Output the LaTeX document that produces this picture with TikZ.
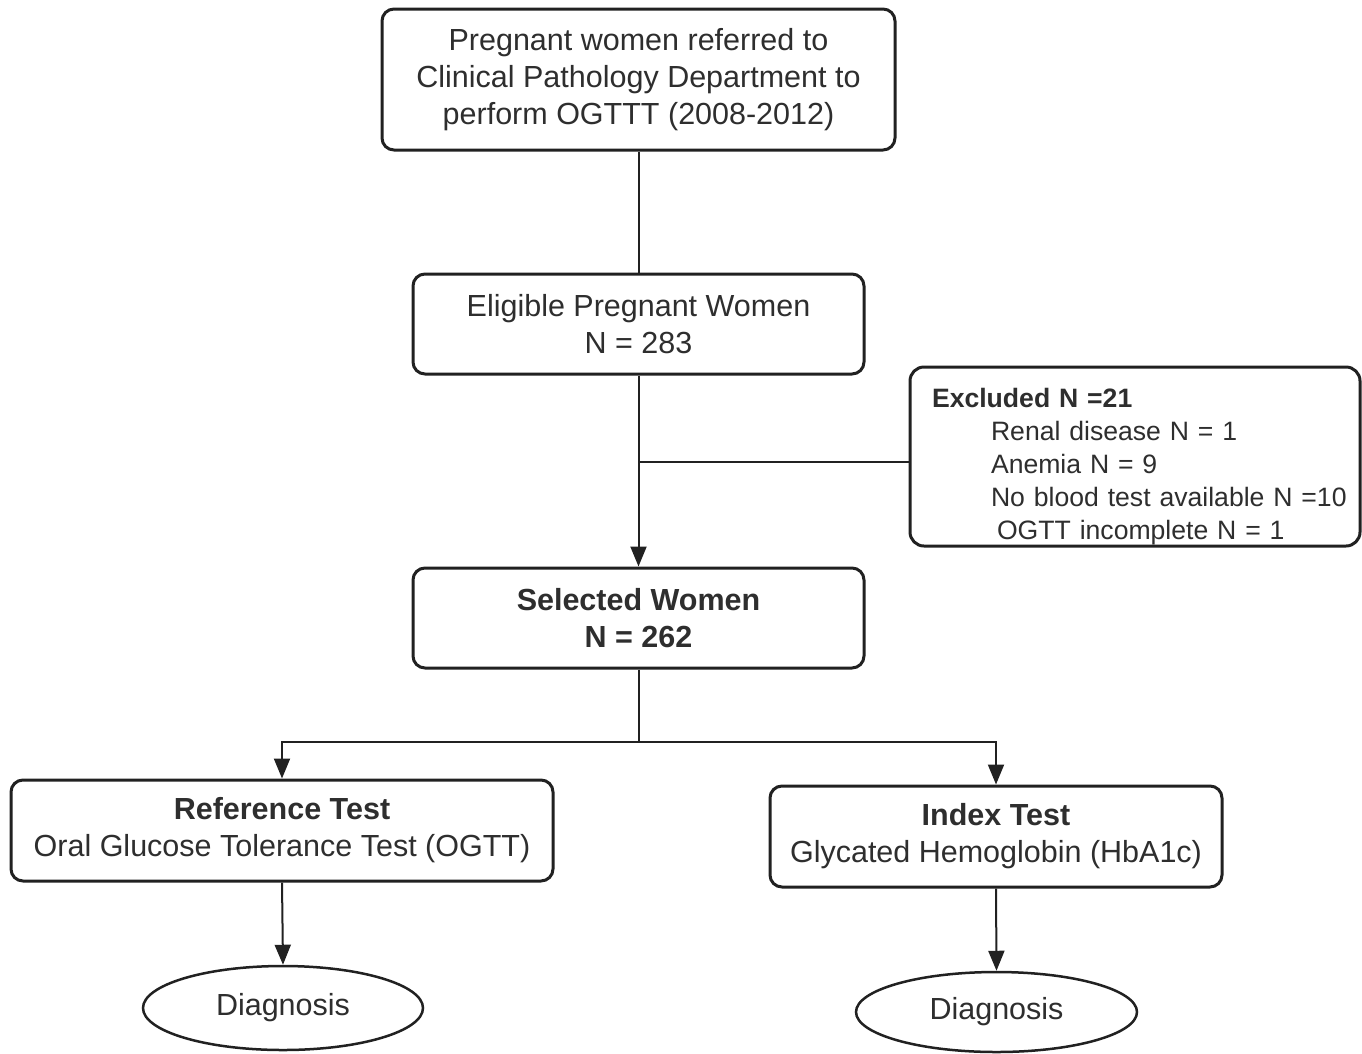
\documentclass[tikz,border=0pt]{standalone}
\usepackage{fontspec}
\setmainfont{Liberation Sans}
\usetikzlibrary{arrows.meta,shapes.geometric}
\definecolor{linecol}{gray}{0.13}
\definecolor{textcol}{gray}{0.18}
\tikzset{
  boxstyle/.style={draw=linecol, line width=3pt, rounded corners=12pt, fill=white,
    text=textcol, align=center, inner sep=0pt,
    font=\fontsize{30.5}{37}\selectfont},
  exboxstyle/.style={draw=linecol, line width=3pt, rounded corners=14pt, fill=white,
    text=textcol, align=left, inner xsep=15pt, inner ysep=0pt,
    font=\fontsize{26.6}{33}\selectfont},
  ovalstyle/.style={draw=linecol, line width=2.5pt, ellipse, fill=white,
    text=textcol, inner sep=0pt, font=\fontsize{30.5}{37}\selectfont},
  conn/.style={draw=linecol, line width=2pt},
  arrowconn/.style={conn, -{Triangle[length=20pt,width=16pt]}},
}
\begin{document}
\begin{tikzpicture}[x=1pt,y=-1pt]
\useasboundingbox (0,0) rectangle (1362,1053);
\node[boxstyle, minimum width=513pt, minimum height=141pt] (top) at (638.5,79.5)
  {Pregnant women referred to\\Clinical Pathology Department to\\perform OGTTT (2008-2012)};
\node[boxstyle, minimum width=451pt, minimum height=100pt] (elig) at (638.5,324)
  {Eligible Pregnant Women\\N = 283};
\node[exboxstyle, minimum width=450pt, minimum height=179pt, text width=420pt] (excl) at (1135,456.5)
  {\mbox{\rule{0pt}{39pt}\hspace*{7pt}\textbf{Excluded N =21}}\\
   \mbox{\hspace*{66pt}Renal disease N = 1}\\
   \mbox{\hspace*{66pt}Anemia N = 9}\\
   \mbox{\hspace*{66pt}No blood test available N =10}\\
   \mbox{\hspace*{72pt}OGTT incomplete N = 1}};
\node[boxstyle, minimum width=451pt, minimum height=100pt] (sel) at (638.5,618)
  {\textbf{Selected Women}\\\textbf{N = 262}};
\node[boxstyle, minimum width=542pt, minimum height=101pt] (ref) at (282,830.5)
  {\textbf{Reference Test}\\Oral Glucose Tolerance Test (OGTT)};
\node[boxstyle, minimum width=452pt, minimum height=101pt] (idx) at (996,836.5)
  {\textbf{Index Test}\\Glycated Hemoglobin (HbA1c)};
\node[ovalstyle, minimum width=280pt, minimum height=84pt] (d1) at (283,1008) {Diagnosis};
\node[ovalstyle, minimum width=281pt, minimum height=80pt] (d2) at (996.5,1012) {Diagnosis};
\coordinate (j) at (638.5,462);
\coordinate (split) at (638.5,742);
\draw[conn] (top.south) -- (elig.north);
\draw[arrowconn] (elig.south) -- (sel.north);
\draw[conn] (j) -- (j -| excl.west);
\draw[conn] (sel.south) -- (split);
\draw[arrowconn] (split) -| (ref.north);
\draw[arrowconn] (split) -| (idx.north);
\draw[arrowconn] (ref.south) -- (d1.north);
\draw[arrowconn] (idx.south) -- (d2.north);
\end{tikzpicture}
\end{document}
